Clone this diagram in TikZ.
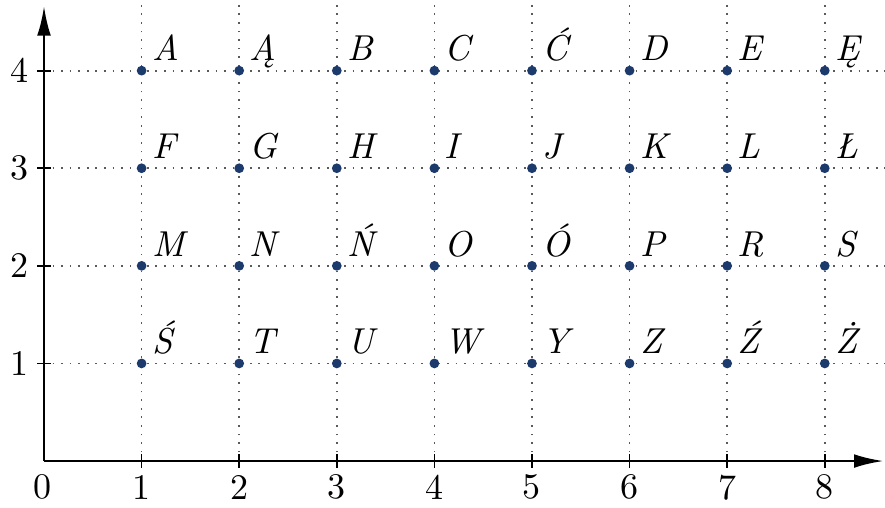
\documentclass[tikz,border=0pt]{standalone}
\usepackage{fontspec}
\usetikzlibrary{arrows.meta}
\definecolor{ptblue}{RGB}{28,58,108}
\definecolor{gridgray}{RGB}{90,90,90}
\tikzset{
  gridline/.style={draw=gridgray, line width=0.5pt, dotted},
  axisline/.style={draw=black, line width=0.7pt, -{Latex[length=3mm,width=1.4mm]}},
  tickline/.style={draw=black, line width=0.5pt},
  ptdot/.style={circle, fill=ptblue, inner sep=0pt, minimum size=1mm},
  letterlab/.style={anchor=base west, inner sep=0pt, font=\fontsize{10.5}{12}\selectfont\itshape},
  numlab/.style={inner sep=0pt, font=\fontsize{10.5}{12}\selectfont}
}
\begin{document}
\begin{tikzpicture}
\useasboundingbox (-0.451,-0.471) rectangle (8.617,4.724);
% grid
\foreach \x in {1,...,8} \draw[gridline] (\x,0) -- (\x,4.72);
\foreach \y in {1,...,4} \draw[gridline] (0,\y) -- (8.62,\y);
% axes
\coordinate (O) at (0,0);
\coordinate (xend) at (8.6,0);
\coordinate (yend) at (0,4.66);
\draw[axisline] (O) -- (xend);
\draw[axisline] (O) -- (yend);
% ticks and numbers
\foreach \x in {1,...,8} {
  \draw[tickline] (\x,-0.07) -- (\x,0.07);
  \node[numlab] (nx\x) at (\x,-0.27) {\x};
}
\foreach \y in {1,...,4} {
  \draw[tickline] (-0.07,\y) -- (0.07,\y);
  \node[numlab] (ny\y) at (-0.25,\y) {\y};
}
\node[numlab] (n0) at (-0.02,-0.27) {0};
% points and letters
\foreach \l [count=\i] in {A,Ą,B,C,Ć,D,E,Ę} {
  \node[ptdot] (p\i-4) at (\i,4) {};
  \node[letterlab] (l\i-4) at (\i+0.1,4.1) {\l};
}
\foreach \l [count=\i] in {F,G,H,I,J,K,L,Ł} {
  \node[ptdot] (p\i-3) at (\i,3) {};
  \node[letterlab] (l\i-3) at (\i+0.1,3.1) {\l};
}
\foreach \l [count=\i] in {M,N,Ń,O,Ó,P,R,S} {
  \node[ptdot] (p\i-2) at (\i,2) {};
  \node[letterlab] (l\i-2) at (\i+0.1,2.1) {\l};
}
\foreach \l [count=\i] in {Ś,T,U,W,Y,Z,Ź,Ż} {
  \node[ptdot] (p\i-1) at (\i,1) {};
  \node[letterlab] (l\i-1) at (\i+0.1,1.1) {\l};
}
\end{tikzpicture}
\end{document}
